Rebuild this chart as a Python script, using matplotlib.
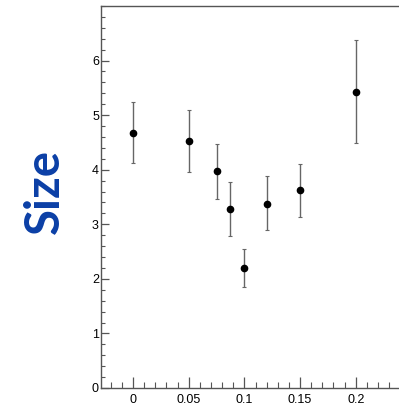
import matplotlib
matplotlib.use("Agg")
import matplotlib.pyplot as plt
from matplotlib.ticker import MultipleLocator
import numpy as np

x_vals = [0.0, 0.05, 0.075, 0.0875, 0.10, 0.12, 0.15, 0.20]
y_vals = [4.68, 4.53, 3.97, 3.28, 2.20, 3.38, 3.62, 5.43]
err_hi = [5.24, 5.10, 4.47, 3.77, 2.54, 3.88, 4.11, 6.38]
err_lo = [4.12, 3.96, 3.47, 2.78, 1.85, 2.89, 3.14, 4.49]
x_ticks = [0, 0.05, 0.1, 0.15, 0.2]
x_tick_labels = ["0", "0.05", "0.1", "0.15", "0.2"]
y_ticks = [0, 1, 2, 3, 4, 5, 6]
y_label = "Size"

y = np.array(y_vals)
yerr = [y - np.array(err_lo), np.array(err_hi) - y]

fig = plt.figure(figsize=(3.99, 4.05), dpi=100)
ax = fig.add_axes([101/399, 17/405, 1 - 101/399 + 0.002, 382/405])

ax.errorbar(x_vals, y_vals, yerr=yerr, fmt='o', color='black', ms=4.5,
            ecolor='#666666', elinewidth=1.0, capsize=1.2, capthick=0.8)

ax.set_xlim(-0.0288, 0.2396)
ax.set_ylim(0, 7)

gray = '#555555'
for s in ['left', 'bottom', 'top']:
    ax.spines[s].set_color(gray)
    ax.spines[s].set_linewidth(1.0)
ax.spines['right'].set_visible(False)

ax.set_xticks(x_ticks)
ax.set_xticklabels(x_tick_labels)
ax.set_yticks(y_ticks)
ax.xaxis.set_minor_locator(MultipleLocator(0.01))
ax.yaxis.set_minor_locator(MultipleLocator(0.2))

ax.tick_params(axis='x', which='major', direction='in', length=8, width=0.9,
               color=gray, pad=4.5, labelsize=9)
ax.tick_params(axis='x', which='minor', direction='in', length=4, width=0.8, color=gray)
ax.tick_params(axis='y', which='major', direction='in', length=6, width=0.9,
               color=gray, pad=1.5, labelsize=9)
ax.tick_params(axis='y', which='minor', direction='in', length=3, width=0.8, color=gray)
for lab in ax.get_xticklabels() + ax.get_yticklabels():
    lab.set_family('Liberation Sans')

fig.text(45/399, 1 - 192/405, y_label, rotation=90, ha='center', va='center',
         fontsize=34, fontweight='bold', color='#0b3fa6', family='Lato')

fig.savefig('out.png', dpi=100)
